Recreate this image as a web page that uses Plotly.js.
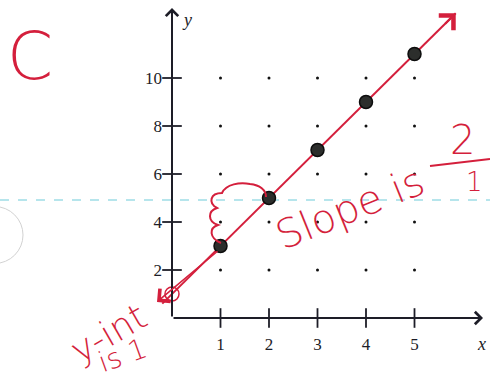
<!DOCTYPE html>
<html>
<head>
<meta charset="utf-8">
<script src="https://cdn.plot.ly/plotly-3.0.1.min.js"></script>
<style>
  html, body { margin: 0; padding: 0; background: #ffffff; }
  #chart { width: 490px; height: 381px; }
</style>
</head>
<body>
<div id="chart"></div>
<script>
// Plotted points
const pointX = [1, 2, 3, 4, 5];
const pointY = [3, 5, 7, 9, 11];

// Dot grid of the worksheet
const gridX = [1, 2, 3, 4, 5];
const gridY = [2, 4, 6, 8, 10];

// Tick labels
const xTicks = [1, 2, 3, 4, 5];
const yTicks = [2, 4, 6, 8, 10];

// The line written in red: slope 2/1, y-intercept 1
const slopeRise = 2;
const slopeRun = 1;
const yIntercept = 1;
const lineFrom = -0.2;
const lineTo = 5.85;

// Canvas geometry
const W = 490, H = 381;
const originPx = [172, 318];
const unitX = 48.5, unitY = 24;
const xRange = [-originPx[0] / unitX, (W - originPx[0]) / unitX];
const yRange = [-(H - originPx[1]) / unitY, originPx[1] / unitY];
const xTip = (483 - originPx[0]) / unitX;
const yTip = (originPx[1] - 8) / unitY;

const ink = '#1d1d27';
const red = '#d41f3c';
const serif = 'Liberation Serif, Times New Roman, serif';
const hand = 'DejaVu Sans, sans-serif';

// pixel position -> paper fraction (for the handwritten notes)
const px = x => x / W;
const py = y => 1 - y / H;
const pathPx = segs => segs.map(s => {
  if (typeof s === 'string') return s;
  return px(s[0]).toFixed(4) + ',' + py(s[1]).toFixed(4);
}).join(' ');

const slope = slopeRise / slopeRun;
const lineX = [lineFrom, lineTo];
const lineY = lineX.map(x => slope * x + yIntercept);

const traces = [
  {
    x: gridX.flatMap(x => gridY.map(() => x)),
    y: gridX.flatMap(() => gridY),
    mode: 'markers', type: 'scatter',
    marker: { size: 3, color: '#111' }, hoverinfo: 'skip'
  },
  {
    x: xTicks, y: xTicks.map(() => 0),
    mode: 'markers', type: 'scatter',
    marker: { symbol: 'line-ns-open', size: 14, color: ink, line: { width: 1.8, color: ink } }
  },
  {
    x: yTicks.map(() => 0), y: yTicks,
    mode: 'markers', type: 'scatter',
    marker: { symbol: 'line-ew-open', size: 14, color: ink, line: { width: 1.8, color: ink } }
  },
  {
    x: lineX, y: lineY,
    mode: 'lines', type: 'scatter',
    line: { color: red, width: 2 }
  },
  {
    x: [0], y: [yIntercept],
    mode: 'markers', type: 'scatter',
    marker: { symbol: 'circle-open', size: 14, color: red, line: { width: 1.5, color: red } }
  },
  {
    x: pointX, y: pointY,
    mode: 'markers', type: 'scatter',
    marker: { size: 13, color: '#2c2e2c', line: { width: 1.5, color: '#0d0d0d' } }
  }
];

// a note placed by pixel centre
const note = (x, y, text, size, angle, extra) => Object.assign({
  xref: 'paper', yref: 'paper', x: px(x), y: py(y), text: text, showarrow: false,
  xanchor: 'center', yanchor: 'middle', textangle: angle || 0,
  font: { family: hand, size: size, color: red, weight: 200 }
}, extra || {});

const annotations = [
  // axes with arrowheads
  { x: xTip, y: 0, ax: 0, ay: 0, axref: 'x', ayref: 'y', xref: 'x', yref: 'y',
    showarrow: true, arrowhead: 4, arrowsize: 1.2, arrowwidth: 2, arrowcolor: ink, text: '' },
  { x: 0, y: yTip, ax: 0, ay: 0, axref: 'x', ayref: 'y', xref: 'x', yref: 'y',
    showarrow: true, arrowhead: 4, arrowsize: 1.2, arrowwidth: 2, arrowcolor: ink, text: '' },
  // axis names
  note(187, 20, '<i>y</i>', 18, 0, { font: { family: serif, size: 18, color: ink } }),
  note(481, 344, '<i>x</i>', 18, 0, { font: { family: serif, size: 18, color: ink } }),
  // red arrowheads on the line
  { x: lineTo, y: slope * lineTo + yIntercept, ax: -12, ay: 12, xref: 'x', yref: 'y',
    showarrow: true, arrowhead: 4, arrowsize: 2, arrowwidth: 2, arrowcolor: red, text: '' },
  { x: (157 - originPx[0]) / unitX, y: (originPx[1] - 302) / unitY, ax: 62, ay: -52, xref: 'x', yref: 'y',
    showarrow: true, arrowhead: 4, arrowsize: 2, arrowwidth: 1.6, arrowcolor: red, text: '' },
  // handwritten notes
  note(30, 56, 'C', 66),
  note(350, 208, 'Slope is', 40, -22),
  note(462, 140, '2', 40),
  note(474, 182, '1', 26),
  note(108, 333, 'y-int', 36, -30),
  note(122, 355, 'is 1', 28, -20)
];

const shapes = [
  // scanner line
  { type: 'line', xref: 'paper', yref: 'paper', x0: 0, x1: 1, y0: py(200), y1: py(200),
    line: { color: '#9fdde6', width: 1.5, dash: 'dash' }, layer: 'below' },
  // punch hole edge
  { type: 'circle', xref: 'paper', yref: 'paper',
    x0: px(-34), x1: px(23), y0: py(206.5), y1: py(263.5),
    line: { color: '#d2d2d2', width: 1 }, layer: 'below' },
  // fraction bar
  { type: 'line', xref: 'paper', yref: 'paper', x0: px(430), x1: px(490), y0: py(166), y1: py(159),
    line: { color: red, width: 2 } },
  // rise / run brace between (1,3) and (2,5)
  { type: 'path', xref: 'paper', yref: 'paper',
    path: pathPx(['M', [221, 243], 'C', [209, 238], [209, 228], [218, 225],
                  'C', [207, 221], [208, 211], [217, 208],
                  'C', [208, 203], [210, 193], [222, 193],
                  'C', [226, 184], [240, 182], [250, 184],
                  'C', [260, 185], [266, 190], [266, 197]]),
    line: { color: red, width: 2 } }
];

const layout = {
  width: W, height: H,
  margin: { l: 0, r: 0, t: 0, b: 0 },
  paper_bgcolor: '#ffffff', plot_bgcolor: 'rgba(0,0,0,0)',
  showlegend: false,
  xaxis: {
    domain: [0, 1], range: xRange, anchor: 'free', position: (H - originPx[1]) / H,
    showgrid: false, zeroline: false, showline: false,
    tickmode: 'array', tickvals: xTicks, ticktext: xTicks.map(String),
    ticks: '', ticklabelstandoff: 14,
    tickfont: { family: serif, size: 17, color: ink }
  },
  yaxis: {
    domain: [0, 1], range: yRange, anchor: 'free', position: originPx[0] / W,
    showgrid: false, zeroline: false, showline: false,
    tickmode: 'array', tickvals: yTicks, ticktext: yTicks.map(String),
    ticks: '', ticklabelstandoff: 10,
    tickfont: { family: serif, size: 17, color: ink }
  },
  annotations: annotations,
  shapes: shapes
};

Plotly.newPlot('chart', traces, layout, { staticPlot: true, displayModeBar: false });
</script>
</body>
</html>
